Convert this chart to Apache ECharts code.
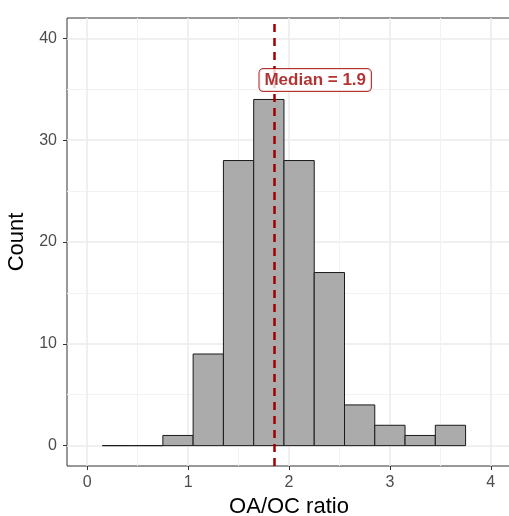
<!DOCTYPE html>
<html>
<head>
<meta charset="utf-8">
<script src="https://cdn.jsdelivr.net/npm/echarts@6/dist/echarts.min.js"></script>
<style>
  html, body { margin: 0; padding: 0; background: #fff; }
  #chart { width: 509px; height: 516px; }
</style>
</head>
<body>
<div id="chart"></div>
<script>
// histogram bins (binwidth 0.3)
var binStarts = [0.15, 0.45, 0.75, 1.05, 1.35, 1.65, 1.95, 2.25, 2.55, 2.85, 3.15, 3.45];
var binWidth = 0.3;
var counts = [0, 0, 1, 9, 28, 34, 28, 17, 4, 2, 1, 2];
var medianValue = 1.846;
var medianText = 'Median = 1.9';
var labelPos = [2.26, 35.9];
var xTicks = [0, 1, 2, 3, 4];
var xMinor = [0.5, 1.5, 2.5, 3.5];
var yTicks = [0, 10, 20, 30, 40];
var yMinor = [5, 15, 25, 35];

var chart = echarts.init(document.getElementById('chart'), null, { renderer: 'canvas' });

var bins = binStarts.map(function (s, i) {
    return [s, s + binWidth, counts[i]];
});

var dark = '#a00000';
var font = 'Liberation Sans, Arial, sans-serif';

var option = {
    animation: false,
    grid: {
        left: 67, right: -2, top: 18, bottom: 50,
        outerBoundsMode: 'none',
        containLabel: false,
        show: true, borderColor: '#333333', borderWidth: 1, backgroundColor: '#fff'
    },
    xAxis: [{
        type: 'value', min: -0.2, max: 4.2,
        name: 'OA/OC ratio', nameLocation: 'middle', nameGap: 30,
        nameTextStyle: { fontSize: 22, color: '#000', fontFamily: font },
        axisLine: { show: false, onZero: false },
        axisTick: { show: true, length: 4, customValues: xTicks, lineStyle: { color: '#333', width: 1 } },
        axisLabel: { customValues: xTicks, fontSize: 16, color: '#4d4d4d', margin: 9, fontFamily: font },
        splitLine: { show: true, lineStyle: { color: '#ebebeb', width: 1.5 } }
    }, {
        type: 'value', min: -0.2, max: 4.2, position: 'bottom',
        axisLine: { show: false, onZero: false },
        axisTick: { show: false, customValues: xMinor },
        axisLabel: { show: false, customValues: xMinor },
        splitLine: { show: true, lineStyle: { color: '#f2f2f2', width: 1 } }
    }],
    yAxis: [{
        type: 'value', min: -2, max: 42,
        name: 'Count', nameLocation: 'middle', nameGap: 37, nameRotate: 90,
        nameTextStyle: { fontSize: 22, color: '#000', fontFamily: font },
        axisLine: { show: false, onZero: false },
        axisTick: { show: true, length: 4, customValues: yTicks, lineStyle: { color: '#333', width: 1 } },
        axisLabel: { customValues: yTicks, fontSize: 16, color: '#4d4d4d', margin: 10, fontFamily: font },
        splitLine: { show: true, lineStyle: { color: '#ebebeb', width: 1.5 } }
    }, {
        type: 'value', min: -2, max: 42, position: 'left',
        axisLine: { show: false, onZero: false },
        axisTick: { show: false, customValues: yMinor },
        axisLabel: { show: false, customValues: yMinor },
        splitLine: { show: true, lineStyle: { color: '#f2f2f2', width: 1 } }
    }],
    series: [{
        type: 'custom',
        xAxisIndex: 0, yAxisIndex: 0,
        data: bins,
        renderItem: function (params, api) {
            var p0 = api.coord([api.value(0), api.value(2)]);
            var p1 = api.coord([api.value(1), 0]);
            return {
                type: 'rect',
                shape: { x: p0[0], y: p0[1], width: p1[0] - p0[0], height: p1[1] - p0[1] },
                style: { fill: '#ababab', stroke: '#1a1a1a', lineWidth: 1 }
            };
        },
        markLine: {
            silent: true,
            symbol: 'none',
            label: { show: false },
            lineStyle: { color: dark, width: 2.5, type: [8, 6] },
            data: [{ xAxis: medianValue }]
        },
        z: 2
    }, {
        type: 'scatter',
        xAxisIndex: 0, yAxisIndex: 0,
        symbolSize: 0,
        data: [labelPos],
        z: 10,
        label: {
            show: true, position: 'inside',
            formatter: medianText,
            color: dark, fontWeight: 'bold', fontSize: 17, fontFamily: font,
            backgroundColor: '#fff', borderColor: dark, borderWidth: 1, borderRadius: 4,
            padding: [3, 5, 2, 5]
        }
    }]
};

chart.setOption(option);
</script>
</body>
</html>
